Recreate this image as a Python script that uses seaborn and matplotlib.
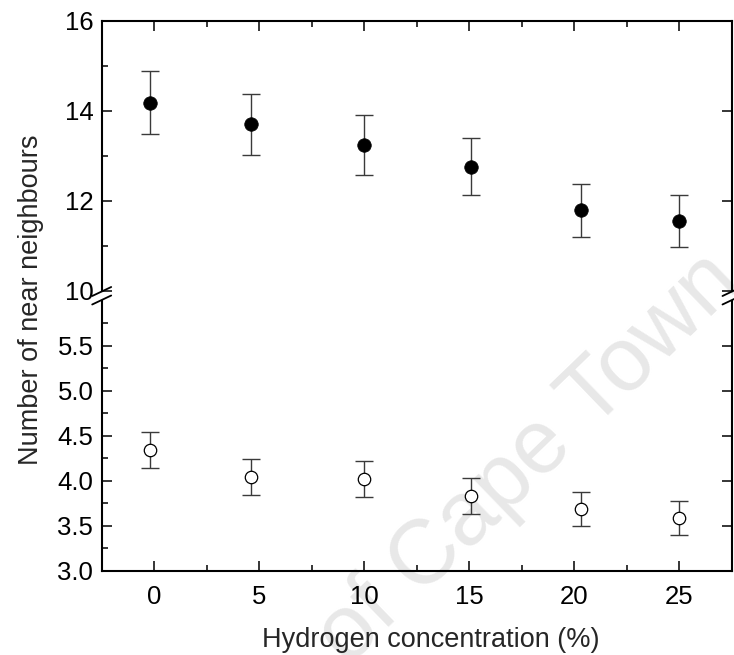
import numpy as np
import pandas as pd
import matplotlib
matplotlib.use("Agg")
import matplotlib.pyplot as plt
import matplotlib.transforms as mtransforms
from matplotlib.lines import Line2D
import seaborn as sns

# ---- data ----
conc = [-0.2, 4.6, 10.0, 15.1, 20.3, 25.0]
n_first = [14.18, 13.70, 13.24, 12.76, 11.79, 11.55]
n_first_err = [0.70, 0.68, 0.66, 0.63, 0.59, 0.57]
n_second = [4.34, 4.04, 4.02, 3.83, 3.69, 3.59]
n_second_err = [0.20, 0.20, 0.20, 0.20, 0.19, 0.19]
x_major = [0, 5, 10, 15, 20, 25]
x_minor = [2.5, 7.5, 12.5, 17.5, 22.5]
top_major = [10, 12, 14, 16]
top_minor = [11, 13, 15]
bot_major = [3.0, 3.5, 4.0, 4.5, 5.0, 5.5]
bot_minor = [3.25, 3.75, 4.25, 4.75, 5.25, 5.75]

df1 = pd.DataFrame({"conc": conc, "n": n_first, "err": n_first_err})
df2 = pd.DataFrame({"conc": conc, "n": n_second, "err": n_second_err})

sns.set_theme(style="ticks")
plt.rcParams["font.family"] = ["Liberation Sans", "DejaVu Sans"]
plt.rcParams["axes.linewidth"] = 1.5

W, H = 734, 655
fig = plt.figure(figsize=(W / 100, H / 100), dpi=100)

left, right = 101.7, 732.0
ax_top = fig.add_axes([left / W, 1 - 291 / H, (right - left) / W, (291 - 20.7) / H])
ax_bot = fig.add_axes([left / W, 1 - 570.7 / H, (right - left) / W, (570.7 - 300.7) / H])

for ax in (ax_top, ax_bot):
    ax.set_facecolor("none")
    ax.set_xlim(-2.5, 27.5)

ERR_KW = dict(fmt="none", ecolor="#3a3a3a", elinewidth=1.0, capsize=6.8, capthick=1.0, zorder=2)

# top panel: filled circles
ax_top.errorbar(df1["conc"], df1["n"], yerr=df1["err"], **ERR_KW)
sns.scatterplot(data=df1, x="conc", y="n", ax=ax_top, color="black", s=95,
                edgecolor="black", linewidth=0.5, zorder=3, legend=False)
ax_top.set_ylim(10, 16)

# bottom panel: open circles
ax_bot.errorbar(df2["conc"], df2["n"], yerr=df2["err"], **ERR_KW)
sns.scatterplot(data=df2, x="conc", y="n", ax=ax_bot, color="white", s=80,
                edgecolor="black", linewidth=0.9, zorder=3, legend=False)
ax_bot.set_ylim(3.0, 6.0)

for ax in (ax_top, ax_bot):
    ax.set_xlabel("")
    ax.set_ylabel("")
    ax.set_xticks(x_major)
    ax.set_xticks(x_minor, minor=True)
    ax.tick_params(which="both", direction="in", width=1.1, color="black",
                   labelsize=18.5, labelcolor="black")
    ax.tick_params(which="major", length=7.5)
    ax.tick_params(which="minor", length=4.5)
    ax.tick_params(axis="y", left=True, right=True, labelleft=True, labelright=False, pad=6)
    for s in ax.spines.values():
        s.set_color("black")
        s.set_linewidth(1.5)

ax_top.set_yticks(top_major)
ax_top.set_yticks(top_minor, minor=True)
ax_top.set_yticklabels([str(v) for v in top_major])
ax_top.spines["bottom"].set_visible(False)
ax_top.tick_params(axis="x", which="both", bottom=False, top=True, labelbottom=False)

ax_bot.set_yticks(bot_major)
ax_bot.set_yticks(bot_minor, minor=True)
ax_bot.set_yticklabels([f"{v:.1f}" for v in bot_major])
ax_bot.spines["top"].set_visible(False)
ax_bot.tick_params(axis="x", which="both", bottom=True, top=False, labelbottom=True, pad=10)
ax_bot.set_xticklabels([str(v) for v in x_major])

# break marks on both spines
def slash(ax, xa, ya, dy):
    base = mtransforms.ScaledTranslation(xa, ya, ax.transAxes)
    tr = mtransforms.IdentityTransform() + base
    fig.add_artist(Line2D([-9.5, 9.5], [dy - 4.5, dy + 4.5], transform=tr,
                          color="black", lw=1.3, clip_on=False))

for xa in (0, 1):
    slash(ax_top, xa, 0, -0.5)
    slash(ax_top, xa, 0, -9.0)

# labels
fig.text(31 / W, 1 - 300 / H, "Number of near neighbours", rotation=90,
         ha="center", va="center", fontsize=19.5)
fig.text(431 / W, 1 - 647 / H, "Hydrogen concentration (%)",
         ha="center", va="baseline", fontsize=19.5)

# faint watermark
fig.text(529 / W, 1 - 459 / H, "of Cape Town", rotation=44, rotation_mode="anchor",
         ha="center", va="center", fontsize=65, color="#e8e8e8", zorder=-1)

fig.savefig("out.png", dpi=100)
